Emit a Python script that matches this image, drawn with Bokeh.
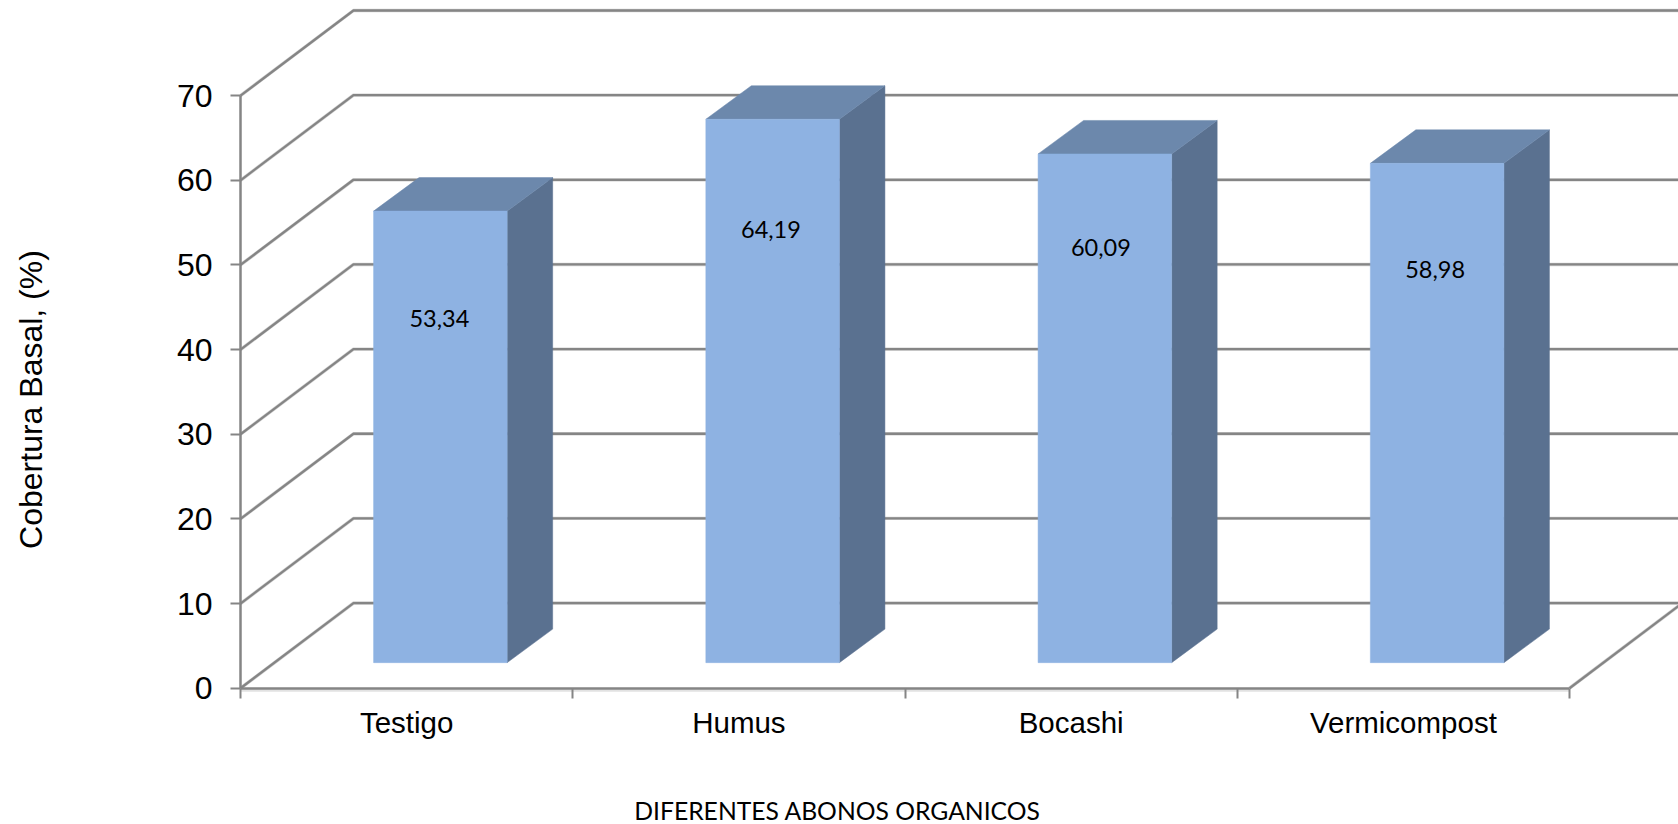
import numpy as np
from bokeh.core.properties import value
from bokeh.embed import file_html
from bokeh.models import BoxAnnotation, FixedTicker, Label, Range1d
from bokeh.plotting import figure
from bokeh.resources import INLINE

# Chart data
categories = ["Testigo", "Humus", "Bocashi", "Vermicompost"]
cobertura = [53.34, 64.19, 60.09, 58.98]
y_ticks = [0, 10, 20, 30, 40, 50, 60, 70]
cat_edges = [0, 1, 2, 3, 4]

# Heights (on the bars' own scale) and nudges of the hand-placed value labels
label_heights = [40.7, 51.2, 49.1, 46.4]
label_shifts = [-0.003, -0.005, -0.012, -0.006]

# Oblique projection: how far the back wall is shifted from the front plane
WALL_DX, WALL_DY = 0.34, 10.06
# Bars stand part-way into the floor and have their own depth
BAR_OFFSET_X, BAR_OFFSET_Y = 0.1005, 3.02
BAR_LEFT, BAR_WIDTH = 0.3, 0.402
BAR_DX, BAR_DY = 0.137, 3.96

GRID = "#858585"
FRINGE = "#d2d2d2"
FRONT = "#8EB2E2"
TOP = "#6C88AC"
SIDE = "#5A7190"
TICK_FONT = "Liberation Sans"
LABEL_FONT = "Lato"

# The plot frame fills the page; the axes sit at fixed positions inside it
X_START, X_END = -0.7224, 4.328
Y_START, Y_END = -16.10, 81.24

p = figure(
    width=1678, height=824,
    x_range=Range1d(X_START, X_END), y_range=Range1d(Y_START, Y_END),
    output_backend="svg", toolbar_location=None,
    min_border=0,
    background_fill_color="white", border_fill_color="white",
    outline_line_color=None,
)
p.grid.visible = False

# Side wall diagonals and back wall horizontals
wall_xs, wall_ys = [], []
for t in y_ticks:
    wall_xs.append([0, WALL_DX, X_END])
    wall_ys.append([t, t + WALL_DY, t + WALL_DY])
p.multi_line(wall_xs, wall_ys, line_color=FRINGE, line_width=3.4)
p.multi_line(wall_xs, wall_ys, line_color=GRID, line_width=2.3)

# Right edge of the floor
p.line([cat_edges[-1], cat_edges[-1] + WALL_DX], [0, WALL_DY], line_color=FRINGE, line_width=3.4)
p.line([cat_edges[-1], cat_edges[-1] + WALL_DX], [0, WALL_DY], line_color=GRID, line_width=2.3)

# The three visible faces of each bar
bar_left = np.arange(len(cobertura)) + BAR_LEFT + BAR_OFFSET_X
bar_right = bar_left + BAR_WIDTH
bar_bottom = np.full(len(cobertura), BAR_OFFSET_Y)
bar_top = bar_bottom + np.array(cobertura)

side_xs = [[r, r + BAR_DX, r + BAR_DX, r] for r in bar_right]
side_ys = [[b, b + BAR_DY, t + BAR_DY, t] for b, t in zip(bar_bottom, bar_top)]
p.patches(side_xs, side_ys, fill_color=SIDE, line_color=SIDE, line_width=0.5)

top_xs = [[l, l + BAR_DX, r + BAR_DX, r] for l, r in zip(bar_left, bar_right)]
top_ys = [[t, t + BAR_DY, t + BAR_DY, t] for t in bar_top]
p.patches(top_xs, top_ys, fill_color=TOP, line_color=TOP, line_width=0.5)

p.quad(left=bar_left, right=bar_right, bottom=bar_bottom, top=bar_top,
       fill_color=FRONT, line_color=FRONT, line_width=0.5)

# Value labels on the bars
p.text(
    x=(bar_left + bar_right) / 2 + np.array(label_shifts),
    y=bar_bottom + np.array(label_heights),
    text=[f"{v:.2f}".replace(".", ",") for v in cobertura],
    text_font=value(LABEL_FONT), text_font_size="23.5px", text_color="black",
    text_align="center", text_baseline="middle",
)

# Pale strip under the floor's front edge
p.add_layout(BoxAnnotation(left=cat_edges[0], right=cat_edges[-1], top=-0.12, bottom=-0.42,
                           fill_color="#e2e2e2", fill_alpha=1, line_color=None, level="underlay"))

# Axes
yax = p.yaxis[0]
yax.fixed_location = 0
yax.ticker = FixedTicker(ticks=y_ticks)
yax.bounds = (0, 70)
yax.axis_line_color = GRID
yax.axis_line_width = 2.5
yax.major_tick_line_color = GRID
yax.major_tick_line_width = 2
yax.major_tick_in = 0
yax.major_tick_out = 10
yax.minor_tick_line_color = None
yax.major_label_standoff = 18
yax.major_label_text_font = TICK_FONT
yax.major_label_text_font_size = "32px"
yax.major_label_text_color = "black"

xax = p.xaxis[0]
xax.fixed_location = 0
xax.ticker = FixedTicker(ticks=[e + 0.5 for e in cat_edges[:-1]], minor_ticks=cat_edges)
xax.bounds = (cat_edges[0], cat_edges[-1])
xax.major_label_overrides = {e + 0.5: c for e, c in zip(cat_edges, categories)}
xax.axis_line_color = GRID
xax.axis_line_width = 2.5
xax.major_tick_line_color = None
xax.major_tick_in = 0
xax.major_tick_out = 0
xax.minor_tick_line_color = GRID
xax.minor_tick_line_width = 2
xax.minor_tick_in = 0
xax.minor_tick_out = 10
xax.major_label_standoff = 8
xax.major_label_text_font = TICK_FONT
xax.major_label_text_font_size = "29.5px"
xax.major_label_text_color = "black"

# Axis titles
p.add_layout(Label(
    x=30, y=425, x_units="screen", y_units="screen",
    text="Cobertura Basal, (%)", angle=90, angle_units="deg",
    text_font=TICK_FONT, text_font_size="32px", text_color="black",
    text_align="center", text_baseline="middle",
))
p.add_layout(Label(
    x=837, y=14, x_units="screen", y_units="screen",
    text="DIFERENTES ABONOS ORGANICOS",
    text_font=LABEL_FONT, text_font_size="24.7px", text_color="black",
    text_align="center", text_baseline="middle",
))

open("out.html", "w").write(file_html(p, INLINE))
